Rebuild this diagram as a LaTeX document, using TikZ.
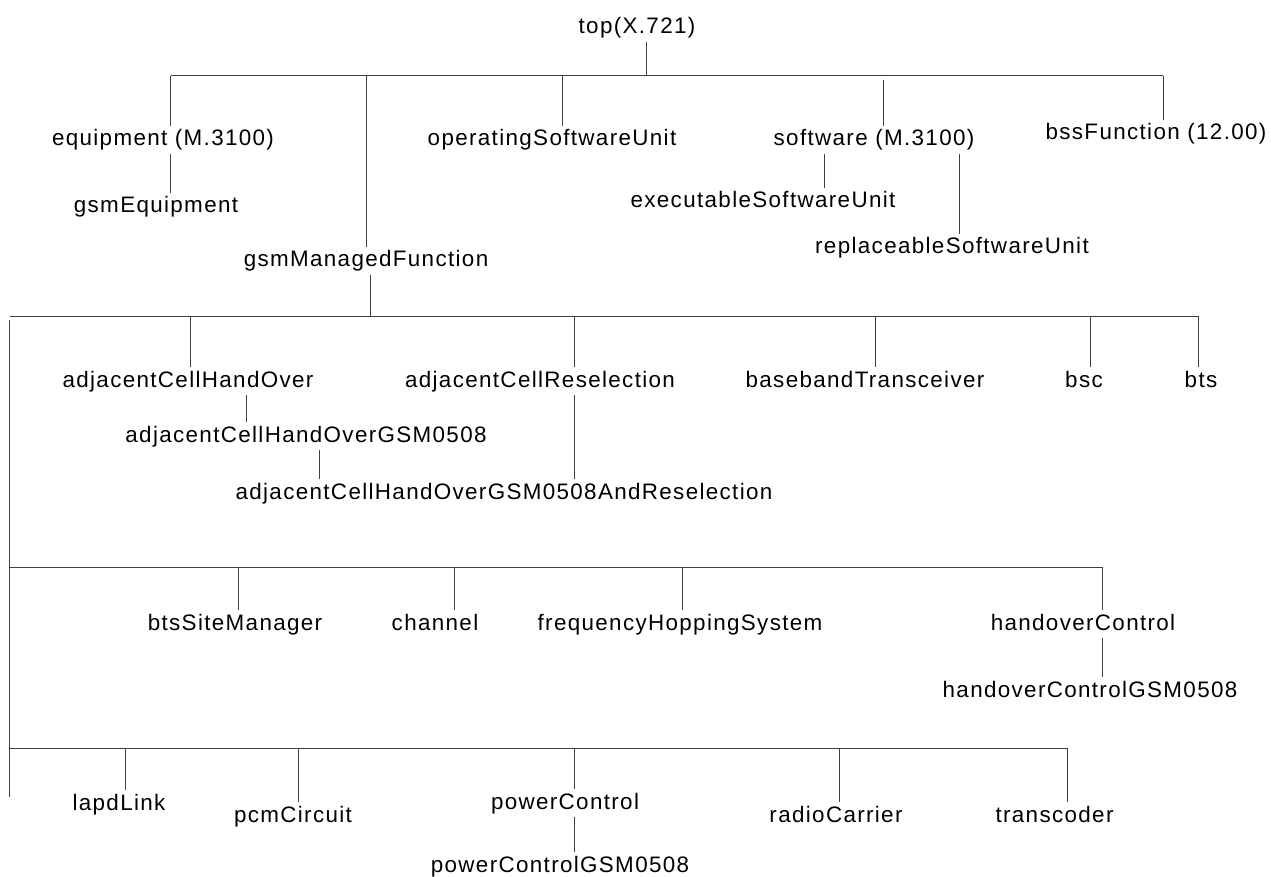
\documentclass[tikz,border=0pt]{standalone}
\usepackage{fontspec}
\setmainfont{Liberation Sans}[LetterSpace=6]
\usepackage{tikz}
\usetikzlibrary{positioning,calc}

\tikzset{
  cls/.style={font=\fontsize{22.4pt}{26pt}\selectfont, inner sep=3pt,
    text height=17pt, text depth=5pt, anchor=base},
  tline/.style={line width=0.9pt, draw=black!75}
}

\begin{document}
\begin{tikzpicture}[x=1pt,y=-1pt]
\useasboundingbox (0,0) rectangle (1271,877);
% class names, anchored at the baseline
\node[cls] (top) at (637,34) {top(X.721)};
\node[cls] (equip) at (163,146) {equipment (M.3100)};
\node[cls] (gsmeq) at (156,213) {gsmEquipment};
\node[cls] (gsmmf) at (366,267) {gsmManagedFunction};
\node[cls] (opsw) at (552,146) {operatingSoftwareUnit};
\node[cls] (sw) at (874,146) {software (M.3100)};
\node[cls] (exsw) at (763,208) {executableSoftwareUnit};
\node[cls] (rpsw) at (952,254) {replaceableSoftwareUnit};
\node[cls] (bssf) at (1156,140) {bssFunction (12.00)};
\node[cls] (ach) at (188,387) {adjacentCellHandOver};
\node[cls] (achgsm) at (306,442) {adjacentCellHandOverGSM0508};
\node[cls] (achres) at (504,499) {adjacentCellHandOverGSM0508AndReselection};
\node[cls] (acr) at (540,387) {adjacentCellReselection};
\node[cls] (bbt) at (865,387) {basebandTransceiver};
\node[cls] (bsc) at (1084,387) {bsc};
\node[cls] (bts) at (1201,387) {bts};
\node[cls] (bsm) at (235,630) {btsSiteManager};
\node[cls] (chan) at (435,630) {channel};
\node[cls] (fhs) at (680,630) {frequencyHoppingSystem};
\node[cls] (hoc) at (1083,630) {handoverControl};
\node[cls] (hocgsm) at (1090,697) {handoverControlGSM0508};
\node[cls] (lapd) at (119,810) {lapdLink};
\node[cls] (pcm) at (293,822) {pcmCircuit};
\node[cls] (pwc) at (565,809) {powerControl};
\node[cls] (pwcgsm) at (560,872) {powerControlGSM0508};
\node[cls] (radio) at (836,822) {radioCarrier};
\node[cls] (trans) at (1054.5,822) {transcoder};

% bus lines
\coordinate (b1w) at (170.6,75.7);
\coordinate (b1e) at (1163,75.7);
\coordinate (b2w) at (9.8,316);
\coordinate (b2e) at (1198.6,316);
\coordinate (b3e) at (1102.6,567.7);
\coordinate (b4e) at (1067.6,748.3);
\coordinate (spinetop) at (9.8,320);
\coordinate (spineend) at (9.8,797);
\draw[tline] (b1w) -- (b1e);
\draw[tline] (b2w) -- (b2e);
\draw[tline] (b3e -| b2w) -- (b3e);
\draw[tline] (b4e -| b2w) -- (b4e);
\draw[tline] (spinetop) -- (spineend);

% drops from the buses
\draw[tline] (top.south -| 646.7,0) -- (b1w -| 646.7,0);
\foreach \n/\lx in {equip/170.6,gsmmf/366,opsw/562.4,bssf/1163}
  \draw[tline] (b1w -| \lx,0) -- (\n.north -| \lx,0);
\draw[tline] (883.7,80) -- (sw.north -| 883.7,0);
\draw[tline] (gsmmf.south -| 370,0) -- (b2w -| 370,0);
\foreach \n/\lx in {ach/190.6,acr/574.7,bbt/875,bsc/1090.8,bts/1198.6}
  \draw[tline] (b2w -| \lx,0) -- (\n.north -| \lx,0);
\foreach \n/\lx in {bsm/238.8,chan/454,fhs/682,hoc/1102.6}
  \draw[tline] (b3e -| \lx,0) -- (\n.north -| \lx,0);
\foreach \n/\lx in {lapd/125.3,pcm/298.4,pwc/574.7,radio/839,trans/1067.6}
  \draw[tline] (b4e -| \lx,0) -- (\n.north -| \lx,0);

% subclass links
\foreach \p/\c/\lx in {equip/gsmeq/170.6,sw/exsw/824.7,sw/rpsw/959,
    ach/achgsm/246.5,achgsm/achres/319,acr/achres/574.7,
    hoc/hocgsm/1102.6,pwc/pwcgsm/574.7}
  \draw[tline] (\p.south -| \lx,0) -- (\c.north -| \lx,0);
\end{tikzpicture}
\end{document}
